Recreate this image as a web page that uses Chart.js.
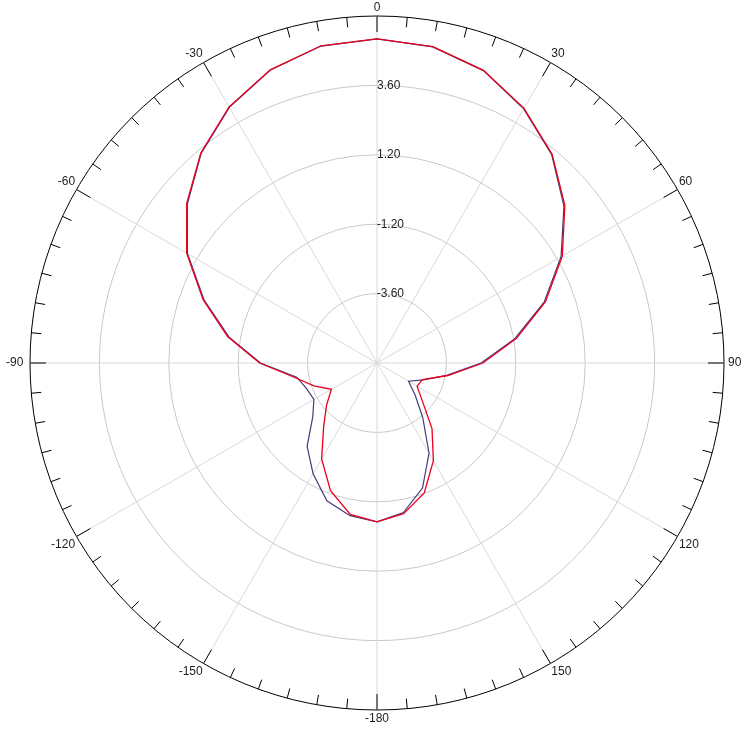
<!DOCTYPE html>
<html>
<head>
<meta charset="utf-8">
<script src="https://cdn.jsdelivr.net/npm/chart.js@4/dist/chart.umd.min.js"></script>
<style>
  html, body { margin: 0; padding: 0; background: #fff; }
  #wrap { width: 747px; height: 729px; }
</style>
</head>
<body>
<div id="wrap"><canvas id="polar"></canvas></div>
<script>
// angles in degrees, clockwise from the top, 10 deg apart
const angles = [0, 10, 20, 30, 40, 50, 60, 70, 80, 90, 100, 110, 120, 130, 140, 150, 160, 170,
  -180, -170, -160, -150, -140, -130, -120, -110, -100, -90, -80, -70, -60, -50, -40, -30, -20, -10];

// red trace
const redSeries = [5.21, 5.11, 4.77, 4.17, 3.42, 2.48, 1.40, 0.20, -1.10, -2.34, -3.51, -4.32,
  -4.40, -3.95, -3.04, -2.10, -1.22, -0.71, -0.51, -0.68, -1.30, -2.17, -3.13, -3.72,
  -4.18, -3.68, -3.11, -1.94, -0.76, 0.40, 1.60, 2.59, 3.48, 4.23, 4.79, 5.14];

// blue trace
const blueSeries = [5.21, 5.10, 4.76, 4.15, 3.40, 2.44, 1.35, 0.15, -1.16, -2.40, -3.55, -4.30,
  -4.74, -4.28, -3.54, -2.40, -1.40, -0.75, -0.51, -0.64, -0.93, -1.58, -2.24, -3.10,
  -3.48, -3.41, -3.18, -1.97, -0.80, 0.36, 1.57, 2.56, 3.46, 4.21, 4.78, 5.13];

const rMin = -6, rMax = 6, rStep = 2.4;
const fontFam = '"Liberation Sans", Arial, sans-serif';

// tick labels sit to the right of the spoke, so pad them with spaces
const measure = document.createElement('canvas').getContext('2d');
measure.font = '12px ' + fontFam;
function padLabel(t) {
  const n = Math.round(measure.measureText(t).width / measure.measureText(' ').width);
  return ' '.repeat(n) + t;
}

// small black ticks round the rim, every 5 deg, longer every 30
const rimTicks = {
  id: 'rimTicks',
  afterDatasetsDraw(chart) {
    const s = chart.scales.r;
    const ctx = chart.ctx;
    const half = Math.PI / angles.length;
    ctx.save();
    ctx.strokeStyle = '#000';
    ctx.lineWidth = 1;
    for (let i = 0; i < angles.length; i++) {
      for (let k = 0; k < 2; k++) {
        const len = (k === 0 && angles[i] % 30 === 0) ? 16 : 10;
        const a = s.getPointPosition(i, s.drawingArea, k * half);
        const b = s.getPointPosition(i, s.drawingArea - len, k * half);
        ctx.beginPath();
        ctx.moveTo(a.x, a.y);
        ctx.lineTo(b.x, b.y);
        ctx.stroke();
      }
    }
    ctx.restore();
  }
};

const chart = new Chart(document.getElementById('polar'), {
  type: 'radar',
  data: {
    labels: angles.map(String),
    datasets: [
      { label: 'red', data: redSeries, borderColor: 'rgb(232,0,28)', borderWidth: 1.3,
        pointRadius: 0, fill: false, backgroundColor: 'transparent' },
      { label: 'blue', data: blueSeries, borderColor: '#4a3a7c', borderWidth: 1.2,
        pointRadius: 0, fill: false, backgroundColor: 'transparent' }
    ]
  },
  options: {
    responsive: true,
    maintainAspectRatio: false,
    animation: false,
    layout: { padding: { left: 2, right: 0, top: 0, bottom: 3 } },
    plugins: { legend: { display: false }, tooltip: { enabled: false } },
    scales: {
      r: {
        min: rMin,
        max: rMax,
        ticks: {
          stepSize: rStep,
          showLabelBackdrop: false,
          backdropPadding: 0,
          color: '#1e1e1e',
          font: { size: 12, family: fontFam },
          callback: (v) => (v <= rMin || v >= rMax) ? '' : padLabel(v.toFixed(2))
        },
        grid: {
          circular: true,
          lineWidth: 1,
          color: (c) => (c.tick && c.tick.value >= rMax) ? '#000' : '#c9c9c9'
        },
        angleLines: {
          color: '#d9d9d9',
          lineWidth: (c) => angles[c.index] % 30 === 0 ? 1 : 0
        },
        pointLabels: {
          callback: (l, i) => angles[i] % 30 === 0 ? l : '',
          color: '#1e1e1e',
          font: { size: 12, family: fontFam },
          padding: (c) => c.index === 27 ? 0.7 : (c.index === 9 ? -2 : -4.4)
        }
      }
    }
  },
  plugins: [rimTicks]
});
</script>
</body>
</html>
